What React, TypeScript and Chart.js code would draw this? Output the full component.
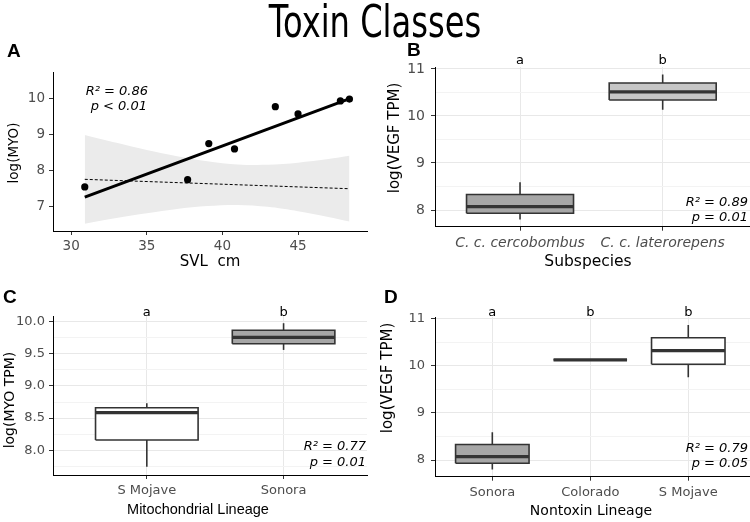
import React, { useEffect, useRef } from "react";
import { Chart, registerables } from "chart.js";
Chart.register(...registerables);

// ---------- Panel A data ----------
const svl = [30.9, 37.7, 39.1, 40.8, 43.5, 45.0, 47.8, 48.4];
const logMyo = [7.55, 7.75, 8.75, 8.6, 9.77, 9.57, 9.93, 9.98];
const fitX = [30.9, 48.2];
const fitY = [7.27, 9.96];
const nullFitX = [30.9, 48.4];
const nullFitY = [7.76, 7.5];
const bandX = [30.9, 33, 35, 37, 39, 41, 43, 45, 47, 48.4];
const bandUpper = [8.99, 8.77, 8.57, 8.4, 8.26, 8.17, 8.16, 8.22, 8.32, 8.41];
const bandLower = [6.53, 6.69, 6.82, 6.94, 7.02, 7.05, 7.0, 6.88, 6.72, 6.59];
const xTicksA = [30, 35, 40, 45];
const yTicksA = [7, 8, 9, 10];

// ---------- Panel B data ----------
const catsB = ["C. c. cercobombus", "C. c. laterorepens"];
const minB = [7.8, 10.13];
const q1B = [7.93, 10.34];
const medB = [8.07, 10.51];
const q3B = [8.33, 10.7];
const maxB = [8.59, 10.88];
const fillB = ["#a6a6a6", "#c6c6c6"];
const lettersB = ["a", "b"];
const yTicksB = [8, 9, 10, 11];
const yMinorB = [8.5, 9.5, 10.5];

// ---------- Panel C data ----------
const catsC = ["S Mojave", "Sonora"];
const minC = [7.745, 9.56];
const q1C = [8.16, 9.655];
const medC = [8.585, 9.755];
const q3C = [8.66, 9.865];
const maxC = [8.73, 9.975];
const fillC = ["#ffffff", "#a6a6a6"];
const lettersC = ["a", "b"];
const yTicksC = [8.0, 8.5, 9.0, 9.5, 10.0];
const yMinorC = [7.75, 8.25, 8.75, 9.25, 9.75];

// ---------- Panel D data ----------
const catsD = ["Sonora", "Colorado", "S Mojave"];
const minD = [7.8, 10.13, 9.76];
const q1D = [7.93, 10.13, 10.035];
const medD = [8.07, 10.13, 10.325];
const q3D = [8.33, 10.13, 10.6];
const maxD = [8.59, 10.13, 10.87];
const fillD = ["#a6a6a6", "#a6a6a6", "#ffffff"];
const lettersD = ["a", "b", "b"];
const yTicksD = [8, 9, 10, 11];
const yMinorD = [8.5, 9.5, 10.5];

const W = 750;
const H = 522;
const TICK_COLOR = "#4d4d4d";
const LINE = "#333333";
const BOX_W = 0.75;

type TextItem = {
  text: string;
  x: number;
  y: number;
  font: string;
  color?: string;
  align?: CanvasTextAlign;
  baseline?: CanvasTextBaseline;
  rotate?: number;
  sx?: number;
};

function textPlugin(items: TextItem[], letters?: string[], letterY?: number) {
  return {
    id: "texts",
    afterDraw(chart: any) {
      const ctx = chart.ctx as CanvasRenderingContext2D;
      for (const it of items) {
        ctx.save();
        ctx.translate(it.x, it.y);
        if (it.rotate) ctx.rotate(it.rotate);
        if (it.sx) ctx.scale(it.sx, 1);
        ctx.font = it.font;
        ctx.fillStyle = it.color || "#000";
        ctx.textAlign = it.align || "left";
        ctx.textBaseline = it.baseline || "alphabetic";
        ctx.fillText(it.text, 0, 0);
        ctx.restore();
      }
      if (letters && letterY !== undefined) {
        const xs = chart.scales.x;
        ctx.save();
        ctx.font = "13px 'DejaVu Sans'";
        ctx.fillStyle = "#000";
        ctx.textAlign = "center";
        ctx.textBaseline = "alphabetic";
        letters.forEach((l, i) => ctx.fillText(l, xs.getPixelForValue(i + 1), letterY));
        ctx.restore();
      }
    },
  };
}

function boxDatasets(mins: number[], q1: number[], med: number[], q3: number[], maxs: number[], fills: string[]) {
  const ds: any[] = [];
  mins.forEach((_, i) => {
    const c = i + 1;
    const l = c - BOX_W / 2;
    const r = c + BOX_W / 2;
    const common = { type: "scatter", showLine: true, pointRadius: 0, pointHoverRadius: 0, borderColor: LINE };
    ds.push({ ...common, order: 3, borderWidth: 1.6, data: [{ x: c, y: q3[i] }, { x: c, y: maxs[i] }] });
    ds.push({ ...common, order: 3, borderWidth: 1.6, data: [{ x: c, y: mins[i] }, { x: c, y: q1[i] }] });
    ds.push({
      ...common,
      order: 2,
      borderWidth: 1.6,
      fill: "shape",
      backgroundColor: fills[i],
      data: [
        { x: l, y: q1[i] },
        { x: r, y: q1[i] },
        { x: r, y: q3[i] },
        { x: l, y: q3[i] },
        { x: l, y: q1[i] },
      ],
    });
    ds.push({ ...common, order: 1, borderWidth: 3.2, data: [{ x: l, y: med[i] }, { x: r, y: med[i] }] });
  });
  return ds;
}

type Area = { left: number; top: number; right: number; bottom: number };

function makeOptions(opts: {
  area: Area;
  xMin: number;
  xMax: number;
  xTicks: number[];
  xLabel: (v: number) => string;
  xItalic?: boolean;
  yMin: number;
  yMax: number;
  yTicks: number[];
  yMinor: number[];
  yFmt: (v: number) => string;
  grid: boolean;
  yPad: number;
  xPad: number;
  tickSize: number;
}) {
  const YW = 45;
  const XH = 26;
  const { area } = opts;
  const minorSet = new Set(opts.yMinor);
  const tickFont = { family: "DejaVu Sans", size: opts.tickSize };
  return {
    responsive: false,
    animation: false,
    devicePixelRatio: 1,
    events: [],
    layout: {
      padding: {
        left: area.left - YW,
        top: area.top,
        right: W - area.right,
        bottom: H - area.bottom - XH,
      },
    },
    plugins: { legend: { display: false }, tooltip: { enabled: false }, title: { display: false } },
    scales: {
      x: {
        type: "linear",
        min: opts.xMin,
        max: opts.xMax,
        afterBuildTicks: (s: any) => {
          s.ticks = opts.xTicks.map((v) => ({ value: v }));
        },
        afterFit: (s: any) => {
          s.height = XH;
        },
        ticks: {
          autoSkip: false,
          maxRotation: 0,
          minRotation: 0,
          padding: opts.xPad,
          color: TICK_COLOR,
          font: { ...tickFont, style: opts.xItalic ? "italic" : "normal" },
          callback: (v: any) => opts.xLabel(Number(v)),
        },
        grid: {
          display: true,
          drawOnChartArea: opts.grid,
          drawTicks: true,
          tickLength: 4,
          tickColor: LINE,
          color: "#e8e8e8",
          lineWidth: 1,
        },
        border: { display: true, color: "#000", width: 1 },
      },
      y: {
        type: "linear",
        min: opts.yMin,
        max: opts.yMax,
        afterBuildTicks: (s: any) => {
          const all = [...opts.yTicks, ...opts.yMinor].sort((a, b) => a - b);
          s.ticks = all.map((v) => ({ value: v }));
        },
        afterFit: (s: any) => {
          s.width = YW;
        },
        ticks: {
          autoSkip: false,
          padding: opts.yPad,
          color: TICK_COLOR,
          font: tickFont,
          callback: (v: any) => (minorSet.has(Number(v)) ? "" : opts.yFmt(Number(v))),
        },
        grid: {
          display: true,
          drawOnChartArea: opts.grid,
          drawTicks: true,
          tickLength: 4,
          tickColor: (c: any) => (c.tick && minorSet.has(c.tick.value) ? "rgba(0,0,0,0)" : LINE),
          color: (c: any) => (c.tick && minorSet.has(c.tick.value) ? "#f3f3f3" : "#e8e8e8"),
          lineWidth: 1,
        },
        border: { display: true, color: "#000", width: 1 },
      },
    },
  };
}

const ANNOT_FONT = "italic 13px 'DejaVu Sans'";
const PANEL_FONT = "bold 19px 'Liberation Sans'";

export default function App() {
  const refA = useRef<HTMLCanvasElement>(null);
  const refB = useRef<HTMLCanvasElement>(null);
  const refC = useRef<HTMLCanvasElement>(null);
  const refD = useRef<HTMLCanvasElement>(null);

  useEffect(() => {
    const charts: Chart[] = [];

    // Panel A
    const areaA = { left: 53, top: 72, right: 367, bottom: 231 };
    const optA: any = makeOptions({
      area: areaA,
      xMin: 28.8,
      xMax: 49.56,
      xTicks: xTicksA,
      xLabel: (v) => String(v),
      yMin: 6.33,
      yMax: 10.73,
      yTicks: yTicksA,
      yMinor: [],
      yFmt: (v) => String(v),
      grid: false,
      yPad: 4,
      xPad: 3,
      tickSize: 13.5,
    });
    charts.push(
      new Chart(refA.current!, {
        type: "scatter",
        data: {
          datasets: [
            {
              data: svl.map((x, i) => ({ x, y: logMyo[i] })),
              backgroundColor: "#000",
              borderColor: "#000",
              pointRadius: 3.6,
              borderWidth: 0,
              order: 1,
            } as any,
            {
              data: fitX.map((x, i) => ({ x, y: fitY[i] })),
              showLine: true,
              borderColor: "#000",
              borderWidth: 3,
              pointRadius: 0,
              order: 2,
            },
            {
              data: nullFitX.map((x, i) => ({ x, y: nullFitY[i] })),
              showLine: true,
              borderColor: "#000",
              borderWidth: 1,
              borderDash: [3, 2],
              pointRadius: 0,
              order: 3,
            },
            {
              data: bandX.map((x, i) => ({ x, y: bandUpper[i] })),
              showLine: true,
              borderWidth: 0,
              borderColor: "rgba(0,0,0,0)",
              backgroundColor: "#ebebeb",
              fill: "+1",
              pointRadius: 0,
              tension: 0.3,
              order: 4,
            } as any,
            {
              data: bandX.map((x, i) => ({ x, y: bandLower[i] })),
              showLine: true,
              borderWidth: 0,
              borderColor: "rgba(0,0,0,0)",
              pointRadius: 0,
              tension: 0.3,
              order: 5,
            } as any,
          ],
        },
        options: optA,
        plugins: [
          textPlugin([
            { text: "Toxin Classes", x: 375, y: 37, font: "44px 'DejaVu Sans'", align: "center", sx: 0.73 },
            { text: "A", x: 7, y: 57, font: PANEL_FONT },
            { text: "R² = 0.86", x: 148, y: 95, font: ANNOT_FONT, align: "right" },
            { text: "p < 0.01", x: 147, y: 110, font: ANNOT_FONT, align: "right" },
            { text: "log(MYO)", x: 14, y: 153, font: "13.5px 'DejaVu Sans'", align: "center", baseline: "middle", rotate: -Math.PI / 2 },
            { text: "SVL  cm", x: 210, y: 262, font: "15px 'DejaVu Sans'", align: "center", baseline: "middle" },
          ]),
        ],
      } as any)
    );

    // Panel B
    const areaB = { left: 435, top: 67, right: 750, bottom: 226.7 };
    charts.push(
      new Chart(refB.current!, {
        type: "scatter",
        data: { datasets: boxDatasets(minB, q1B, medB, q3B, maxB, fillB) },
        options: makeOptions({
          area: areaB,
          xMin: 0.404,
          xMax: 2.612,
          xTicks: [1, 2],
          xLabel: (v) => catsB[v - 1] || "",
          xItalic: true,
          yMin: 7.645,
          yMax: 11.04,
          yTicks: yTicksB,
          yMinor: yMinorB,
          yFmt: (v) => String(v),
          grid: true,
          yPad: 6,
          xPad: 4,
          tickSize: 14,
        }) as any,
        plugins: [
          textPlugin(
            [
              { text: "B", x: 407, y: 56, font: PANEL_FONT },
              { text: "R² = 0.89", x: 748, y: 205.5, font: ANNOT_FONT, align: "right" },
              { text: "p = 0.01", x: 748, y: 220.7, font: ANNOT_FONT, align: "right" },
              { text: "log(VEGF TPM)", x: 395, y: 138, font: "15px 'DejaVu Sans'", align: "center", baseline: "middle", rotate: -Math.PI / 2 },
              { text: "Subspecies", x: 588, y: 262, font: "15.5px 'DejaVu Sans'", align: "center", baseline: "middle" },
            ],
            lettersB,
            64
          ),
        ],
      } as any)
    );

    // Panel C
    const areaC = { left: 53, top: 316, right: 367, bottom: 475 };
    charts.push(
      new Chart(refC.current!, {
        type: "scatter",
        data: { datasets: boxDatasets(minC, q1C, medC, q3C, maxC, fillC) },
        options: makeOptions({
          area: areaC,
          xMin: 0.314,
          xMax: 2.61,
          xTicks: [1, 2],
          xLabel: (v) => catsC[v - 1] || "",
          yMin: 7.616,
          yMax: 10.087,
          yTicks: yTicksC,
          yMinor: yMinorC,
          yFmt: (v) => v.toFixed(1),
          grid: true,
          yPad: 4,
          xPad: 4,
          tickSize: 13,
        }) as any,
        plugins: [
          textPlugin(
            [
              { text: "C", x: 3, y: 303, font: PANEL_FONT },
              { text: "R² = 0.77", x: 366, y: 450, font: ANNOT_FONT, align: "right" },
              { text: "p = 0.01", x: 366, y: 466, font: ANNOT_FONT, align: "right" },
              { text: "log(MYO TPM)", x: 10, y: 400, font: "14px 'DejaVu Sans'", align: "center", baseline: "middle", rotate: -Math.PI / 2 },
              { text: "Mitochondrial Lineage", x: 198, y: 510, font: "14.5px 'Liberation Sans'", align: "center", baseline: "middle" },
            ],
            lettersC,
            315.5
          ),
        ],
      } as any)
    );

    // Panel D
    const areaD = { left: 435, top: 317, right: 750, bottom: 476.7 };
    charts.push(
      new Chart(refD.current!, {
        type: "scatter",
        data: { datasets: boxDatasets(minD, q1D, medD, q3D, maxD, fillD) },
        options: makeOptions({
          area: areaD,
          xMin: 0.415,
          xMax: 3.63,
          xTicks: [1, 2, 3],
          xLabel: (v) => catsD[v - 1] || "",
          yMin: 7.645,
          yMax: 11.04,
          yTicks: yTicksD,
          yMinor: yMinorD,
          yFmt: (v) => String(v),
          grid: true,
          yPad: 6,
          xPad: 4,
          tickSize: 13,
        }) as any,
        plugins: [
          textPlugin(
            [
              { text: "D", x: 384, y: 303, font: PANEL_FONT },
              { text: "R² = 0.79", x: 748, y: 451.7, font: ANNOT_FONT, align: "right" },
              { text: "p = 0.05", x: 748, y: 467.3, font: ANNOT_FONT, align: "right" },
              { text: "log(VEGF TPM)", x: 388, y: 378, font: "15px 'DejaVu Sans'", align: "center", baseline: "middle", rotate: -Math.PI / 2 },
              { text: "Nontoxin Lineage", x: 591, y: 511, font: "14px 'DejaVu Sans'", align: "center", baseline: "middle" },
            ],
            lettersD,
            315.5
          ),
        ],
      } as any)
    );

    return () => charts.forEach((c) => c.destroy());
  }, []);

  const cs: React.CSSProperties = { position: "absolute", left: 0, top: 0, width: W, height: H };
  return (
    <div style={{ position: "fixed", left: 0, top: 0, width: W, height: H, background: "#fff" }}>
      <canvas ref={refA} width={W} height={H} style={cs} />
      <canvas ref={refB} width={W} height={H} style={cs} />
      <canvas ref={refC} width={W} height={H} style={cs} />
      <canvas ref={refD} width={W} height={H} style={cs} />
    </div>
  );
}
